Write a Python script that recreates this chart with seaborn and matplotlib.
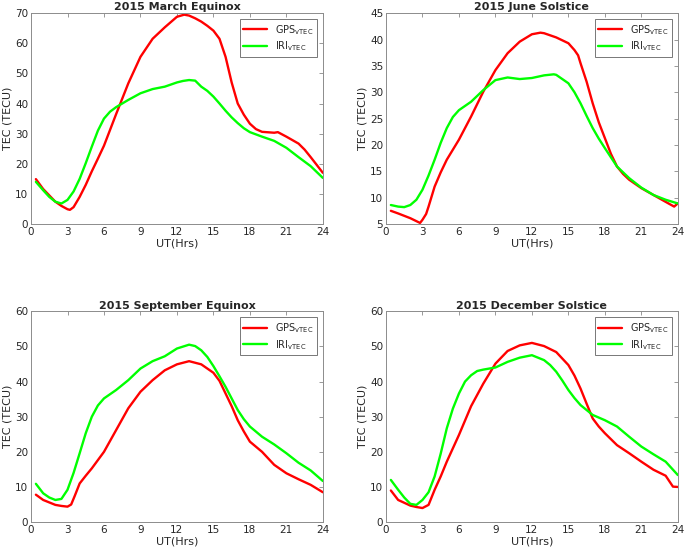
import pandas as pd
import numpy as np
import seaborn as sns
import matplotlib.pyplot as plt

# values (UT hours, TEC in TECU)
mar_gps_x = [0.4, 1, 2, 2.5, 3, 3.2, 3.5, 4, 4.5, 5, 5.5, 6, 7, 8, 9, 10, 11, 12, 12.6, 13, 13.5, 14, 14.5, 15, 15.5, 16, 16.5, 17, 17.5, 18, 18.5, 19, 20, 20.3, 21, 22, 22.5, 23, 23.5, 24]
mar_gps_y = [14.9, 11.6, 7.4, 6.0, 4.9, 4.7, 5.6, 9.0, 13.0, 17.5, 21.7, 26.0, 36.5, 46.7, 55.5, 61.5, 65.3, 68.8, 69.5, 69.2, 68.3, 67.2, 65.8, 64.2, 61.5, 55.5, 47.0, 40.0, 36.3, 33.3, 31.5, 30.6, 30.3, 30.5, 29.0, 26.7, 24.7, 22.2, 19.6, 17.0]
mar_iri_x = [0.4, 1, 1.5, 2, 2.5, 3, 3.5, 4, 4.5, 5, 5.5, 6, 6.5, 7, 8, 9, 10, 11, 12, 12.5, 13, 13.5, 14, 14.5, 15, 15.5, 16, 16.5, 17, 17.5, 18, 19, 20, 21, 22, 23, 24]
mar_iri_y = [14.0, 11.2, 9.0, 7.4, 6.8, 8.0, 10.8, 15.0, 20.2, 25.7, 31.0, 35.0, 37.3, 38.8, 41.2, 43.4, 44.8, 45.6, 47.0, 47.5, 47.8, 47.6, 45.6, 44.2, 42.3, 40.0, 37.6, 35.4, 33.5, 31.8, 30.5, 29.0, 27.6, 25.3, 22.2, 19.2, 15.3]

jun_gps_x = [0.4, 1, 2, 2.8, 3, 3.3, 3.5, 4, 4.5, 5, 6, 7, 8, 9, 10, 11, 12, 12.7, 13, 14, 15, 15.5, 15.8, 16, 16.5, 17, 17.5, 18, 18.5, 19, 19.5, 20, 21, 22, 23, 23.7, 24]
jun_gps_y = [7.5, 7.0, 6.1, 5.2, 5.8, 6.9, 8.3, 12.1, 14.8, 17.2, 21.0, 25.4, 30.1, 34.2, 37.4, 39.6, 41.0, 41.3, 41.2, 40.4, 39.3, 38.0, 37.0, 35.5, 32.0, 27.9, 24.3, 21.3, 18.3, 15.9, 14.5, 13.4, 11.8, 10.5, 9.2, 8.3, 8.9]
jun_iri_x = [0.4, 1, 1.5, 2, 2.5, 3, 3.5, 4, 4.5, 5, 5.5, 6, 7, 8, 9, 10, 11, 12, 13, 13.8, 14, 15, 15.5, 16, 16.5, 17, 17.5, 18, 19, 20, 21, 22, 23, 24]
jun_iri_y = [8.6, 8.3, 8.2, 8.6, 9.6, 11.5, 14.2, 17.2, 20.4, 23.2, 25.3, 26.6, 28.2, 30.4, 32.3, 32.8, 32.5, 32.7, 33.2, 33.4, 33.3, 31.7, 30.0, 27.9, 25.5, 23.2, 21.2, 19.4, 15.9, 13.7, 11.9, 10.5, 9.6, 8.9]

sep_gps_x = [0.4, 1, 2, 2.5, 3, 3.3, 3.6, 4, 4.5, 5, 6, 7, 8, 9, 10, 11, 12, 13, 14, 15, 15.5, 16, 16.5, 17, 17.5, 18, 19, 20, 21, 22, 23, 24]
sep_gps_y = [7.8, 6.3, 4.9, 4.6, 4.4, 5.0, 7.5, 11.0, 13.2, 15.3, 20.0, 26.2, 32.4, 37.1, 40.4, 43.2, 44.9, 45.8, 44.9, 42.5, 40.2, 36.6, 33.0, 29.0, 25.8, 22.9, 20.0, 16.3, 13.9, 12.2, 10.6, 8.5]
sep_iri_x = [0.4, 1, 1.5, 2, 2.5, 3, 3.5, 4, 4.5, 5, 5.5, 6, 7, 8, 9, 10, 11, 12, 13, 13.5, 14, 14.5, 15, 15.5, 16, 17, 17.5, 18, 19, 20, 21, 22, 23, 24]
sep_iri_y = [10.9, 8.2, 7.0, 6.3, 6.6, 9.2, 14.0, 19.6, 25.3, 30.0, 33.2, 35.2, 37.6, 40.4, 43.7, 45.8, 47.2, 49.4, 50.5, 50.1, 48.9, 47.0, 44.4, 41.5, 38.5, 31.9, 29.3, 27.2, 24.3, 22.1, 19.6, 16.9, 14.7, 11.7]

dec_gps_x = [0.4, 1, 2, 2.5, 3, 3.5, 4, 4.5, 5, 6, 7, 8, 9, 10, 11, 12, 13, 14, 15, 15.5, 16, 16.5, 17, 17.5, 18, 19, 20, 21, 22, 23, 23.6, 24]
dec_gps_y = [9.0, 6.3, 4.7, 4.3, 4.0, 4.9, 9.2, 13.0, 17.2, 24.8, 33.0, 39.4, 45.1, 48.7, 50.3, 51.0, 50.1, 48.4, 44.7, 41.7, 38.0, 33.7, 29.5, 27.2, 25.3, 21.9, 19.6, 17.2, 14.9, 13.2, 10.1, 10.0]
dec_iri_x = [0.4, 1, 1.5, 2, 2.5, 3, 3.5, 4, 4.5, 5, 5.5, 6, 6.5, 7, 7.5, 8, 9, 10, 11, 12, 13, 13.5, 14, 14.5, 15, 15.5, 16, 17, 18, 19, 20, 21, 22, 23, 24]
dec_iri_y = [12.0, 9.2, 7.0, 5.2, 4.9, 6.3, 8.5, 13.0, 19.5, 26.7, 32.3, 36.6, 40.0, 41.8, 43.0, 43.4, 44.0, 45.6, 46.8, 47.5, 46.1, 44.7, 42.8, 40.3, 37.6, 35.3, 33.3, 30.5, 29.0, 27.2, 24.3, 21.5, 19.3, 17.2, 13.4]

titles = ['2015 March Equinox', '2015 June Solstice', '2015 September Equinox', '2015 December Solstice']
ylims = [(0, 70), (5, 45), (0, 60), (0, 60)]
yticks = [np.arange(0, 71, 10), np.arange(5, 46, 5), np.arange(0, 61, 10), np.arange(0, 61, 10)]
xticks = [0, 3, 6, 9, 12, 15, 18, 21, 24]

panels = [
    (mar_gps_x, mar_gps_y, mar_iri_x, mar_iri_y),
    (jun_gps_x, jun_gps_y, jun_iri_x, jun_iri_y),
    (sep_gps_x, sep_gps_y, sep_iri_x, sep_iri_y),
    (dec_gps_x, dec_gps_y, dec_iri_x, dec_iri_y),
]

gps_lab = r'GPS$_{\mathrm{vTEC}}$'
iri_lab = r'IRI$_{\mathrm{vTEC}}$'

sns.set_style('white')
plt.rcParams['font.family'] = ['DejaVu Sans']
plt.rcParams['xtick.direction'] = 'in'
plt.rcParams['ytick.direction'] = 'in'

fig = plt.figure(figsize=(6.85, 5.49), dpi=100)
positions = [
    [0.0453, 0.592, 0.426, 0.384],
    [0.5635, 0.592, 0.426, 0.384],
    [0.0453, 0.049, 0.426, 0.384],
    [0.5635, 0.049, 0.426, 0.384],
]

grey = '#262626'
for i, (gx, gy, ix, iy) in enumerate(panels):
    ax = fig.add_axes(positions[i])
    df = pd.concat([
        pd.DataFrame({'UT': gx, 'TEC': gy, 'src': gps_lab}),
        pd.DataFrame({'UT': ix, 'TEC': iy, 'src': iri_lab}),
    ])
    sns.lineplot(data=df, x='UT', y='TEC', hue='src', sort=False,
                 palette={gps_lab: '#ff0000', iri_lab: '#00ff00'},
                 linewidth=1.7, ax=ax)
    ax.set_xlim(0, 24)
    ax.set_ylim(*ylims[i])
    ax.set_xticks(xticks)
    ax.set_yticks(yticks[i])
    ax.tick_params(axis='both', which='both', labelsize=7.5, colors=grey,
                   length=3, width=0.6, top=True, right=True, pad=2)
    ax.tick_params(axis='both', which='both', color='#888888')
    for s in ax.spines.values():
        s.set_color('#8c8c8c')
        s.set_linewidth(0.7)
    ax.set_xlabel('UT(Hrs)', fontsize=8, color=grey, labelpad=1)
    ax.set_ylabel('TEC (TECU)', fontsize=8, color=grey, labelpad=2)
    ax.set_title(titles[i], fontsize=8, fontweight='bold', pad=2)
    leg = ax.legend(loc='upper right', fontsize=7, frameon=True, fancybox=False,
                    handlelength=2.4, borderpad=0.4, labelspacing=0.3,
                    borderaxespad=0.6, title=None)
    leg.get_frame().set_edgecolor('#555555')
    leg.get_frame().set_linewidth(0.7)

fig.savefig('out.png', dpi=100)
